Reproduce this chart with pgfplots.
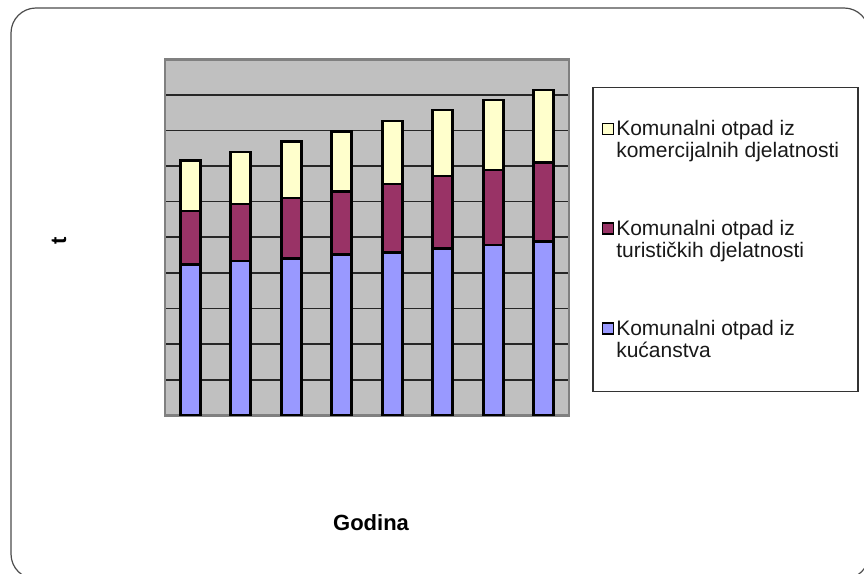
\documentclass[border=0pt]{standalone}
\usepackage{pgfplots}
\pgfplotsset{compat=1.18}
\usepackage{fontspec}
\setmainfont{Liberation Sans}
\definecolor{cblue}{HTML}{9999FF}
\definecolor{cmaroon}{HTML}{993366}
\definecolor{cyellow}{HTML}{FFFFCC}
\definecolor{cgray}{HTML}{C0C0C0}
\begin{document}
\begin{tikzpicture}[x=1pt,y=1pt]
\useasboundingbox (0,0) rectangle (864,573);
\begin{scope}
\clip (0,0) rectangle (864,573);
\draw[line width=1.2pt, color=black!70, rounded corners=25pt] (11,-6) rectangle (869,565);
\end{scope}
\begin{axis}[
  at={(165pt,157.7pt)}, anchor=south west,
  scale only axis, width=404pt, height=356pt,
  ybar stacked, bar width=20pt,
  xmin=-0.5, xmax=7.5, ymin=0, ymax=10,
  xtick=\empty, ytick={1,...,9}, yticklabels={}, major tick length=0pt,
  ymajorgrids, grid style={black!85, line width=1.6pt},
  axis background/.style={fill=cgray},
  axis line style={draw=black!50, line width=2.5pt},
  xlabel={\fontsize{22}{24}\selectfont\bfseries Godina},
  ylabel={\fontsize{22}{24}\selectfont\bfseries t},
  xlabel style={at={(axis description cs:0.51,-0.3025)}, anchor=center},
  ylabel style={at={(axis description cs:-0.262,0.489)}, anchor=center},
  reverse legend,
  legend image code/.code={\draw[#1, line width=1.5pt] (0pt,5.5pt) rectangle (11pt,16.5pt);},
  legend style={at={(axis description cs:1.057,0.923)}, anchor=north west,
    draw=black!80, line width=1.5pt, fill=white,
    inner xsep=9pt, inner ysep=31pt, row sep=57pt,
    font=\fontsize{21}{22}\selectfont, text=black!90,
    cells={align=left}},
  legend cell align=left,
]
\addplot[fill=cblue, draw=black, line width=2.6pt] coordinates {(0,4.24)(1,4.33)(2,4.40)(3,4.52)(4,4.58)(5,4.69)(6,4.78)(7,4.88)};
\addplot[fill=cmaroon, draw=black, line width=2.6pt] coordinates {(0,1.50)(1,1.60)(2,1.70)(3,1.76)(4,1.92)(5,2.03)(6,2.11)(7,2.22)};
\addplot[fill=cyellow, draw=black, line width=2.6pt] coordinates {(0,1.41)(1,1.47)(2,1.59)(3,1.69)(4,1.77)(5,1.86)(6,1.97)(7,2.04)};
\addlegendentry{Komunalni otpad iz\\kućanstva}
\addlegendentry{Komunalni otpad iz\\turističkih djelatnosti}
\addlegendentry{Komunalni otpad iz\\komercijalnih djelatnosti\hspace*{8pt}}
\end{axis}
\end{tikzpicture}
\end{document}
